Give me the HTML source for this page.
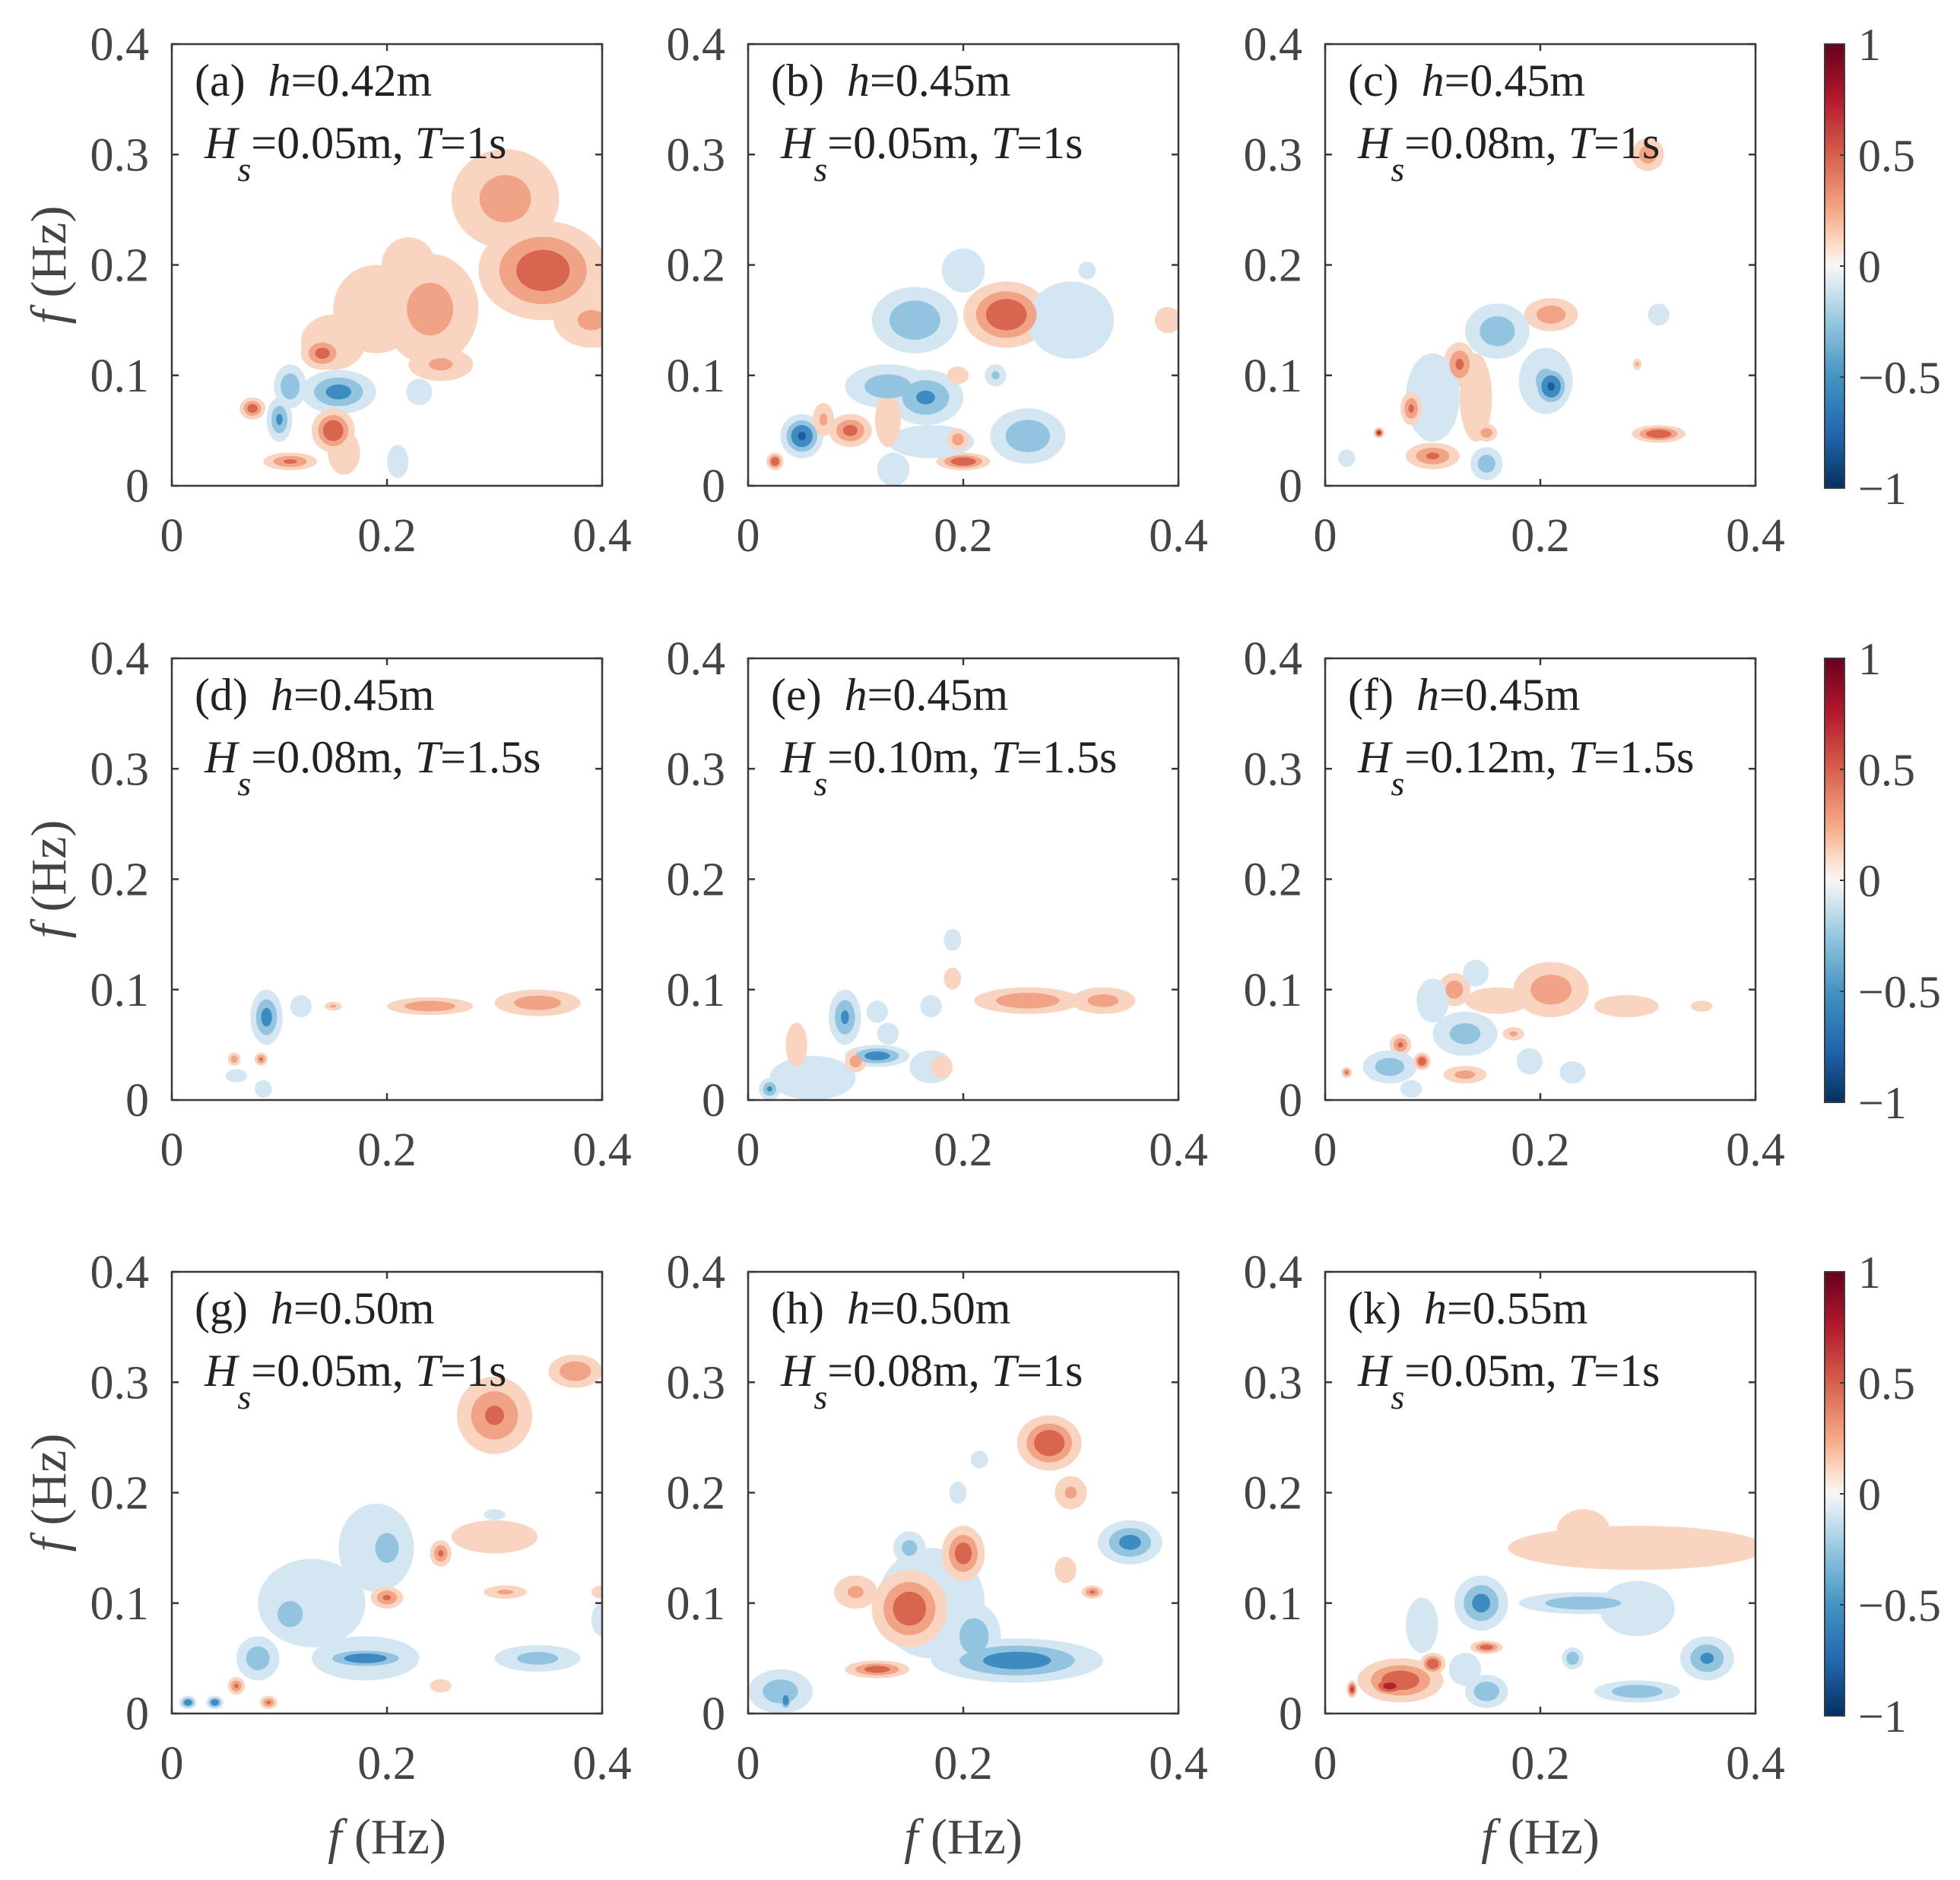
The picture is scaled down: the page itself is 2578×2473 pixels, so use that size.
<!DOCTYPE html>
<html><head><meta charset="utf-8"><style>
html,body{margin:0;padding:0;background:#fff;}
svg{display:block;font-family:"Liberation Serif",serif;}
</style></head><body>
<svg id="fig" width="2578" height="2473" viewBox="0 0 2578 2473" xmlns="http://www.w3.org/2000/svg"></svg>
<script>
// axis ticks
const tickValues = [0, 0.1, 0.2, 0.3, 0.4];
const yTickLabels = ["0", "0.1", "0.2", "0.3", "0.4"];
const xTickValues = [0, 0.2, 0.4];
const xTickLabels = ["0", "0.2", "0.4"];
const cbTicks = [1, 0.5, 0, -0.5, -1];
const cbLabels = ["1", "0.5", "0", "\u22120.5", "\u22121"];
const panelIds = ["a","b","c","d","e","f","g","h","k"];
const depths = ["0.42","0.45","0.45","0.45","0.45","0.45","0.50","0.50","0.55"];
const heights = ["0.05","0.05","0.08","0.08","0.10","0.12","0.05","0.08","0.05"];
const periods = ["1","1","1","1.5","1.5","1.5","1","1","1"];
// blobs: [f1, f2, spreadX, spreadY, bicoherence value]
const blobsA = [[0.31,0.26,0.05,0.045,0.45],[0.345,0.195,0.06,0.045,0.72],[0.39,0.15,0.035,0.025,0.4],[0.24,0.16,0.045,0.05,0.45],[0.19,0.16,0.04,0.04,0.28],[0.22,0.2,0.025,0.025,0.25],[0.15,0.13,0.03,0.025,0.35],[0.14,0.12,0.02,0.015,0.65],[0.25,0.11,0.03,0.015,0.4],[0.155,0.085,0.035,0.02,-0.65],[0.11,0.09,0.015,0.02,-0.55],[0.1,0.06,0.012,0.02,-0.6],[0.075,0.07,0.012,0.01,0.7],[0.15,0.05,0.02,0.02,0.8],[0.11,0.022,0.025,0.008,0.6],[0.16,0.03,0.015,0.02,0.25],[0.23,0.085,0.012,0.012,-0.3],[0.21,0.022,0.01,0.015,-0.3]];
const blobsB = [[0.24,0.155,0.04,0.03,0.8],[0.155,0.15,0.04,0.03,-0.55],[0.2,0.195,0.02,0.02,-0.3],[0.3,0.15,0.04,0.035,-0.3],[0.315,0.195,0.008,0.008,-0.3],[0.39,0.15,0.012,0.012,0.3],[0.13,0.09,0.04,0.02,-0.5],[0.165,0.08,0.035,0.025,-0.6],[0.23,0.1,0.01,0.01,-0.4],[0.2,0.022,0.025,0.008,0.8],[0.26,0.045,0.035,0.025,-0.55],[0.17,0.04,0.04,0.015,-0.35],[0.05,0.045,0.02,0.02,-0.85],[0.095,0.05,0.02,0.015,0.65],[0.07,0.06,0.01,0.015,0.4],[0.025,0.022,0.008,0.008,0.8],[0.13,0.06,0.012,0.025,0.3],[0.195,0.042,0.01,0.01,0.5],[0.135,0.015,0.015,0.015,-0.3],[0.195,0.1,0.01,0.008,0.3]];
const blobsC = [[0.3,0.3,0.015,0.015,0.5],[0.31,0.047,0.025,0.008,0.8],[0.29,0.11,0.004,0.005,0.4],[0.31,0.155,0.01,0.01,-0.35],[0.205,0.095,0.025,0.03,-0.4],[0.21,0.09,0.018,0.02,-0.85],[0.21,0.155,0.025,0.015,0.5],[0.16,0.14,0.03,0.025,-0.5],[0.125,0.11,0.015,0.02,0.6],[0.14,0.08,0.015,0.04,0.3],[0.1,0.08,0.025,0.04,-0.3],[0.08,0.07,0.01,0.015,0.6],[0.05,0.048,0.005,0.005,0.9],[0.1,0.027,0.025,0.012,0.6],[0.15,0.02,0.015,0.015,-0.5],[0.15,0.048,0.01,0.008,0.5],[0.02,0.025,0.008,0.008,-0.3]];
const blobsD = [[0.088,0.075,0.015,0.025,-0.65],[0.12,0.085,0.01,0.01,-0.3],[0.15,0.085,0.008,0.004,0.4],[0.24,0.085,0.04,0.008,0.55],[0.34,0.088,0.04,0.012,0.5],[0.058,0.037,0.006,0.006,0.5],[0.083,0.037,0.006,0.006,0.6],[0.06,0.022,0.01,0.006,-0.3],[0.085,0.01,0.008,0.008,-0.3]];
const blobsE = [[0.26,0.09,0.05,0.012,0.55],[0.33,0.09,0.03,0.012,0.45],[0.19,0.11,0.008,0.01,0.35],[0.19,0.145,0.008,0.01,-0.3],[0.09,0.075,0.015,0.025,-0.6],[0.12,0.08,0.01,0.01,-0.3],[0.13,0.06,0.01,0.01,-0.3],[0.06,0.02,0.04,0.02,-0.3],[0.17,0.03,0.02,0.015,-0.35],[0.12,0.04,0.03,0.01,-0.7],[0.1,0.035,0.01,0.01,0.5],[0.02,0.01,0.01,0.01,-0.6],[0.045,0.05,0.01,0.02,0.3],[0.18,0.03,0.01,0.01,0.3],[0.17,0.085,0.01,0.01,-0.3]];
const blobsF = [[0.21,0.1,0.035,0.025,0.5],[0.28,0.085,0.03,0.01,0.3],[0.35,0.085,0.01,0.005,0.3],[0.16,0.09,0.03,0.012,0.3],[0.12,0.1,0.015,0.015,0.5],[0.14,0.115,0.012,0.012,-0.3],[0.1,0.09,0.015,0.02,-0.3],[0.13,0.06,0.03,0.02,-0.45],[0.07,0.05,0.01,0.01,0.6],[0.06,0.03,0.025,0.015,-0.5],[0.09,0.035,0.008,0.008,0.8],[0.13,0.023,0.02,0.008,0.45],[0.175,0.06,0.01,0.006,0.4],[0.02,0.025,0.005,0.005,0.6],[0.23,0.025,0.012,0.01,-0.3],[0.19,0.035,0.012,0.012,-0.3],[0.08,0.01,0.01,0.008,-0.3]];
const blobsG = [[0.375,0.31,0.025,0.015,0.55],[0.3,0.27,0.035,0.035,0.6],[0.13,0.1,0.05,0.04,-0.3],[0.19,0.15,0.035,0.04,-0.3],[0.2,0.15,0.02,0.025,-0.5],[0.3,0.16,0.04,0.015,0.3],[0.25,0.145,0.01,0.012,0.6],[0.11,0.09,0.02,0.02,-0.55],[0.2,0.105,0.015,0.01,0.6],[0.31,0.11,0.02,0.006,0.4],[0.4,0.11,0.01,0.006,0.35],[0.18,0.05,0.05,0.02,-0.3],[0.18,0.05,0.045,0.01,-0.75],[0.34,0.05,0.04,0.012,-0.45],[0.4,0.085,0.01,0.015,-0.3],[0.06,0.025,0.008,0.008,0.6],[0.09,0.01,0.008,0.006,0.6],[0.015,0.01,0.008,0.006,-0.8],[0.04,0.01,0.008,0.006,-0.8],[0.08,0.05,0.02,0.02,-0.5],[0.25,0.025,0.01,0.006,0.3],[0.3,0.18,0.01,0.005,-0.3]];
const blobsH = [[0.17,0.1,0.05,0.05,-0.3],[0.28,0.245,0.03,0.025,0.8],[0.3,0.2,0.015,0.015,0.4],[0.355,0.155,0.03,0.02,-0.65],[0.2,0.145,0.02,0.025,0.7],[0.15,0.095,0.035,0.035,0.75],[0.1,0.11,0.02,0.015,0.4],[0.15,0.15,0.015,0.015,-0.45],[0.21,0.07,0.025,0.03,-0.5],[0.25,0.048,0.08,0.02,-0.7],[0.12,0.04,0.03,0.008,0.7],[0.03,0.02,0.03,0.02,-0.5],[0.035,0.012,0.006,0.01,-0.8],[0.32,0.11,0.01,0.006,0.6],[0.295,0.13,0.01,0.012,0.3],[0.195,0.2,0.008,0.01,-0.3],[0.215,0.23,0.008,0.008,-0.3]];
const blobsK = [[0.29,0.15,0.12,0.02,0.3],[0.24,0.165,0.025,0.02,0.3],[0.145,0.1,0.025,0.025,-0.65],[0.29,0.095,0.035,0.025,-0.3],[0.24,0.1,0.06,0.01,-0.55],[0.09,0.08,0.015,0.025,-0.3],[0.355,0.05,0.025,0.02,-0.6],[0.23,0.05,0.01,0.01,-0.55],[0.29,0.02,0.04,0.01,-0.55],[0.15,0.02,0.02,0.015,-0.55],[0.07,0.03,0.04,0.02,0.75],[0.06,0.025,0.02,0.01,0.95],[0.1,0.045,0.012,0.01,0.8],[0.025,0.022,0.005,0.008,0.85],[0.15,0.06,0.015,0.006,0.7],[0.13,0.04,0.015,0.015,-0.3]];
const allBlobs = [blobsA,blobsB,blobsC,blobsD,blobsE,blobsF,blobsG,blobsH,blobsK];

const NS = "http://www.w3.org/2000/svg";
const svg = document.getElementById("fig");
const colLeft = [226, 984, 1743], rowTop = [58, 866, 1673];
const PW = 566, PH = 581;
const levels = [0.15, 0.35, 0.55, 0.8];
const redCols = ["#f9d4c0", "#f1a385", "#d8654f", "#b3202e"];
const blueCols = ["#d3e6f1", "#93c4df", "#3d8bc1", "#1c5c9c"];
function mk(tag, attrs, parent) {
  const e = document.createElementNS(NS, tag);
  for (const k in attrs) e.setAttribute(k, attrs[k]);
  (parent || svg).appendChild(e);
  return e;
}
const defs = mk("defs", {});
const grad = mk("linearGradient", {id: "rdbu", x1: "0", y1: "0", x2: "0", y2: "1"}, defs);
[["0", "#67001f"], ["0.12", "#b2182b"], ["0.25", "#d6604d"], ["0.37", "#f4a582"], ["0.45", "#fddbc7"], ["0.5", "#f7f7f7"], ["0.55", "#d1e5f0"], ["0.63", "#92c5de"], ["0.75", "#4393c3"], ["0.88", "#2166ac"], ["1", "#053061"]].forEach(s => mk("stop", {offset: s[0], "stop-color": s[1]}, grad));

for (let p = 0; p < 9; p++) {
  const x0 = colLeft[p % 3], y0 = rowTop[Math.floor(p / 3)];
  const sx = v => x0 + v / 0.4 * PW;
  const sy = v => y0 + PH - v / 0.4 * PH;
  const g = mk("g", {});
  
  
  const cp = mk("clipPath", {id: "clip" + p}, defs);
  mk("rect", {x: x0, y: y0, width: PW, height: PH}, cp);
  const marks = mk("g", {"clip-path": "url(#clip" + p + ")"}, g);
  
  
  const blobs = allBlobs[p];
  for (let li = 0; li < levels.length; li++) {
    const L = levels[li];
    blobs.forEach(b => {
      const a = Math.abs(b[4]);
      if (a <= L) return;
      const s = Math.sqrt(Math.log(a / L) / Math.log(a / 0.15));
      const el = mk("ellipse", {cx: sx(b[0]), cy: sy(b[1]), rx: b[2] / 0.4 * PW * s, ry: b[3] / 0.4 * PH * s, fill: b[4] > 0 ? redCols[li] : blueCols[li]}, marks);
      
      
    });
  }
  const box = mk("rect", {x: x0, y: y0, width: PW, height: PH, fill: "none", stroke: "#3a3a3a", "stroke-width": 2.5}, g);
  
  
  tickValues.forEach((t, i) => {
    mk("line", {x1: x0, x2: x0 + 9, y1: sy(t), y2: sy(t), stroke: "#3a3a3a", "stroke-width": 2.5}, g);
    mk("line", {x1: x0 + PW, x2: x0 + PW - 9, y1: sy(t), y2: sy(t), stroke: "#3a3a3a", "stroke-width": 2.5}, g);
    const tl = mk("text", {x: x0 - 30, y: sy(t) + 21, "text-anchor": "end", "font-size": 62, fill: "#444"}, g);
    tl.textContent = yTickLabels[i];
    
    
  });
  xTickValues.forEach((t, i) => {
    mk("line", {x1: sx(t), x2: sx(t), y1: y0 + PH, y2: y0 + PH - 9, stroke: "#3a3a3a", "stroke-width": 2.5}, g);
    mk("line", {x1: sx(t), x2: sx(t), y1: y0, y2: y0 + 9, stroke: "#3a3a3a", "stroke-width": 2.5}, g);
    const tl = mk("text", {x: sx(t), y: y0 + PH + 86, "text-anchor": "middle", "font-size": 62, fill: "#444"}, g);
    tl.textContent = xTickLabels[i];
    
    
  });
  const t1 = mk("text", {x: x0 + 30, y: y0 + 68, "font-size": 60, fill: "#222"}, g);
  
  
  t1.innerHTML = '(' + panelIds[p] + ')&#160; <tspan font-style="italic">h</tspan>=' + depths[p] + 'm';
  const t2 = mk("text", {x: x0 + 43, y: y0 + 150, "font-size": 60, fill: "#222"}, g);
  
  
  t2.innerHTML = '<tspan font-style="italic">H</tspan><tspan font-style="italic" font-size="46" dy="30">s</tspan><tspan dy="-30">=' + heights[p] + 'm, </tspan><tspan font-style="italic">T</tspan>=' + periods[p] + 's';
  if (p % 3 === 0) {
    const yl = mk("text", {x: 0, y: 0, "font-size": 66, fill: "#444", "text-anchor": "middle", transform: "translate(86," + (y0 + PH / 2) + ") rotate(-90)"}, g);
    yl.innerHTML = '<tspan font-style="italic">f</tspan> (Hz)';
    
    
  }
  if (p >= 6) {
    const xl = mk("text", {x: x0 + PW / 2, y: 2438, "font-size": 66, fill: "#444", "text-anchor": "middle"}, g);
    xl.innerHTML = '<tspan font-style="italic">f</tspan> (Hz)';
    
    
  }
}
// colorbars
for (let r = 0; r < 3; r++) {
  const y0 = rowTop[r], cx = 2400, cw = 26, ch = 584;
  const g = mk("g", {});
  
  
  mk("rect", {x: cx, y: y0, width: cw, height: ch, fill: "url(#rdbu)", stroke: "#3a3a3a", "stroke-width": 2}, g);
  cbTicks.forEach((t, i) => {
    const yy = y0 + (1 - t) / 2 * ch;
    mk("line", {x1: cx + cw, x2: cx + cw - 6, y1: yy, y2: yy, stroke: "#3a3a3a", "stroke-width": 2}, g);
    const tl = mk("text", {x: cx + 44, y: yy + 21, "font-size": 60, fill: "#444"}, g);
    tl.textContent = cbLabels[i];
    
    
  });
}
</script>
</body></html>
